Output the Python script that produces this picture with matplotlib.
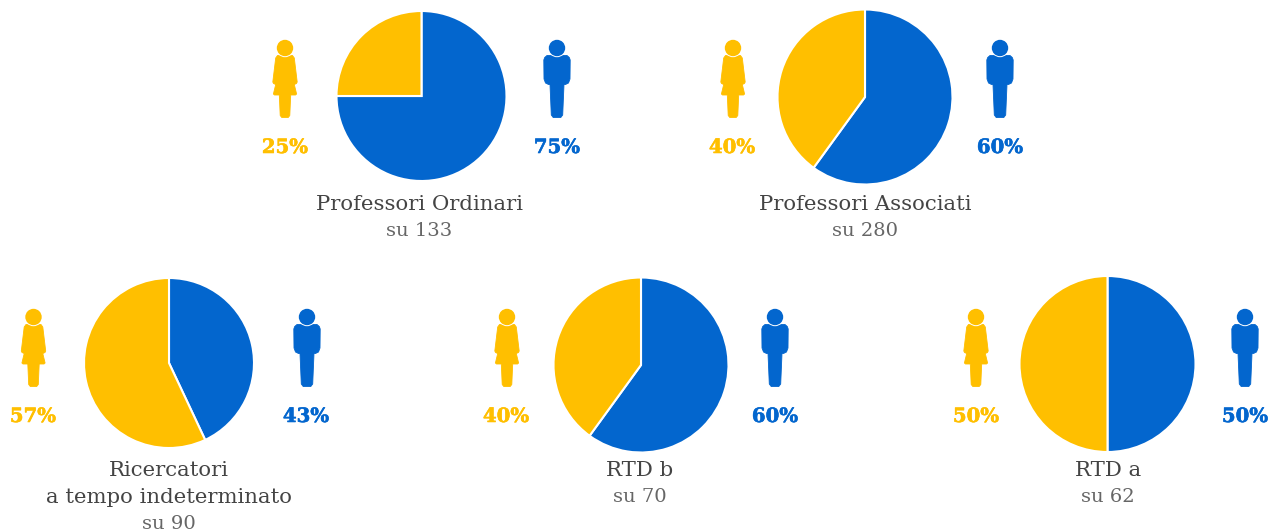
import matplotlib
matplotlib.use("Agg")
import matplotlib.pyplot as plt
import matplotlib.patheffects as pe
from matplotlib.patches import Polygon, Circle

W, H = 1269, 531
GOLD = "#FFBF00"
BLUE = "#0366CE"
TEXT = "#444444"

# data
groups = ["Professori Ordinari", "Professori Associati",
          "Ricercatori\na tempo indeterminato", "RTD b", "RTD a"]
totals = [133, 280, 90, 70, 62]
women_pct = [25, 40, 57, 40, 50]
men_pct = [75, 60, 43, 60, 50]

# layout (pixels)
pie_cx = [421.5, 865, 169, 641, 1107.5]
pie_cy = [96, 97, 363, 365, 364]
pie_r = [85, 87.5, 85, 87.5, 88]
f_x = [285, 733, 33.5, 507, 976]
m_x = [557, 1000, 307, 775, 1245]
icon_y = [48, 48, 317, 317, 317]
pct_y = [147, 147, 416, 416, 416]
f_lab_x = [285, 732, 33, 506, 976]
m_lab_x = [557, 1000, 306, 775, 1245]
title_x = [419, 865, 169, 640, 1108]
title_y = [204, 204, 471, 471, 471]
line_h = 26.5

fig = plt.figure(figsize=(W / 100, H / 100), dpi=100, facecolor="white")
ov = fig.add_axes([0, 0, 1, 1], zorder=2)
ov.set_xlim(0, W)
ov.set_ylim(H, 0)
ov.axis("off")

FEMALE = [(-9.3, 10), (-7.5, 7.5), (7.5, 7.5), (9.3, 10), (12.2, 34), (11.5, 35.5), (9.3, 36.5), (11.6, 46),
          (10.5, 47), (5.7, 47), (4.8, 67.5), (3.2, 69.5), (-3.2, 69.5), (-4.8, 67.5), (-5.7, 47), (-10.5, 47),
          (-11.6, 46), (-9.3, 36.5), (-11.5, 35.5), (-12.2, 34)]
MALE = [(-10, 7.5), (10, 7.5), (12.3, 9.5), (13.2, 12), (13, 31), (11.5, 35), (8.5, 36.5), (7, 36.5), (5.7, 67),
        (3.8, 69.5), (-3.8, 69.5), (-5.7, 67), (-7, 36.5), (-8.5, 36.5), (-11.5, 35), (-13, 31), (-13.2, 12), (-12.3, 9.5)]


def person(x, y, shape, color):
    ov.add_patch(Polygon([(x + a, y + b) for a, b in shape], closed=True, fc=color, ec=color, lw=0.6, joinstyle="round"))
    ov.add_patch(Circle((x, y), 9.2, fc="white", ec="none"))
    ov.add_patch(Circle((x, y), 8.2, fc=color, ec="none"))


for i, g in enumerate(groups):
    r, cx, cy = pie_r[i], pie_cx[i], pie_cy[i]
    ax = fig.add_axes([(cx - r) / W, 1 - (cy + r) / H, 2 * r / W, 2 * r / H])
    ax.pie([men_pct[i], women_pct[i]], colors=[BLUE, GOLD], startangle=90, counterclock=False,
           radius=1, wedgeprops=dict(edgecolor="white", linewidth=1.5))
    ax.set_xlim(-1, 1)
    ax.set_ylim(-1, 1)
    ax.set_aspect("equal")
    ax.axis("off")

    person(f_x[i], icon_y[i], FEMALE, GOLD)
    person(m_x[i], icon_y[i], MALE, BLUE)
    for x, v, c in ((f_lab_x[i], women_pct[i], GOLD), (m_lab_x[i], men_pct[i], BLUE)):
        ov.text(x, pct_y[i], f"{v}%", color=c, family="DejaVu Serif", weight="bold", fontsize=14.2,
                ha="center", va="center", path_effects=[pe.withStroke(linewidth=0.4, foreground=c)])

    y = title_y[i]
    for ln in g.split("\n"):
        ov.text(title_x[i], y, ln, color=TEXT, family="DejaVu Serif", fontsize=15.3, ha="center", va="center")
        y += line_h
    ov.text(title_x[i], y, f"su {totals[i]}", color="#666666", family="DejaVu Serif", fontsize=14,
            ha="center", va="center")

fig.savefig("out.png", dpi=100)
